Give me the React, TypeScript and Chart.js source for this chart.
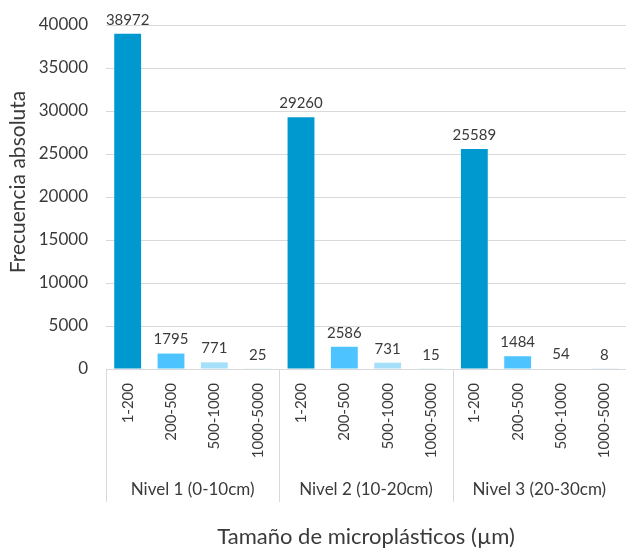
import React, { useEffect, useRef } from "react";
import { Chart, registerables } from "chart.js";

Chart.register(...registerables);

// Size classes (µm) repeated within each depth level
const sizeClasses = ["1-200", "200-500", "500-1000", "1000-5000"];
const levels = ["Nivel 1 (0-10cm)", "Nivel 2 (10-20cm)", "Nivel 3 (20-30cm)"];

// Absolute frequency per level, in size-class order
const nivel1 = [38972, 1795, 771, 25];
const nivel2 = [29260, 2586, 731, 15];
const nivel3 = [25589, 1484, 54, 8];

const sizeColors = ["#0099CF", "#4DC3FF", "#A6DFFA", "#D2EFFC"];

const yTitle = "Frecuencia absoluta";
const xTitle = "Tamaño de microplásticos (µm)";

const FONT = "Lato, 'Open Sans', sans-serif";
const TEXT = "#3A3A3A";
const LINE = "#D9D9D9";

const labels = [...sizeClasses, ...sizeClasses, ...sizeClasses];
const values = [...nivel1, ...nivel2, ...nivel3];
const colors = [...sizeColors, ...sizeColors, ...sizeColors];

const decorations = {
  id: "decorations",
  afterDatasetsDraw(chart: any) {
    const { ctx, chartArea } = chart;
    const meta = chart.getDatasetMeta(0);
    ctx.save();
    // value labels above bars
    ctx.fillStyle = TEXT;
    ctx.font = `15px ${FONT}`;
    ctx.textAlign = "center";
    ctx.textBaseline = "middle";
    meta.data.forEach((bar: any, i: number) => {
      ctx.fillText(String(values[i]), bar.x, bar.y - 14);
    });

    // group separators on the category axis
    const groupW = (chartArea.right - chartArea.left) / levels.length;
    ctx.strokeStyle = LINE;
    ctx.lineWidth = 1;
    for (let g = 0; g < levels.length; g++) {
      const x = Math.round(chartArea.left + g * groupW) + 0.5;
      ctx.beginPath();
      ctx.moveTo(x, chartArea.bottom);
      ctx.lineTo(x, 502);
      ctx.stroke();
    }

    // group labels
    ctx.font = `17px ${FONT}`;
    levels.forEach((lv, g) => {
      ctx.fillText(lv, chartArea.left + (g + 0.5) * groupW, 490);
    });

    // axis titles
    ctx.font = `22px ${FONT}`;
    ctx.fillText(xTitle, (chartArea.left + chartArea.right) / 2, 537);
    ctx.translate(18, 182);
    ctx.rotate(-Math.PI / 2);
    ctx.font = `21px ${FONT}`;
    ctx.fillText(yTitle, 0, 0);
    ctx.restore();
  },
};

export default function App() {
  const ref = useRef<HTMLCanvasElement | null>(null);

  useEffect(() => {
    if (!ref.current) return;
    const chart = new Chart(ref.current, {
      type: "bar",
      data: {
        labels,
        datasets: [
          {
            data: values,
            backgroundColor: colors,
            borderWidth: 0,
            categoryPercentage: 1,
            barPercentage: 0.62,
          },
        ],
      },
      options: {
        animation: false,
        responsive: false,
        devicePixelRatio: 1,
        layout: { padding: { top: 25, right: 0, left: 0, bottom: 0 } },
        plugins: {
          legend: { display: false },
          tooltip: { enabled: false },
        },
        scales: {
          x: {
            grid: { display: false, drawTicks: false },
            border: { display: true, color: LINE, width: 1 },
            ticks: {
              autoSkip: false,
              minRotation: 90,
              maxRotation: 90,
              padding: 14,
              color: TEXT,
              font: { family: FONT, size: 15 },
            },
            afterFit: (scale: any) => {
              scale.height = 179;
              scale.paddingLeft = 0;
              scale.paddingRight = 0;
            },
          },
          y: {
            min: 0,
            max: 40000,
            grid: { color: LINE, drawTicks: false },
            border: { display: false },
            ticks: {
              stepSize: 5000,
              padding: 18,
              color: TEXT,
              font: { family: FONT, size: 17 },
              callback: (v: any) => String(v),
            },
            afterFit: (scale: any) => {
              scale.width = 106;
              scale.paddingTop = 0;
              scale.paddingBottom = 0;
            },
          },
        },
      },
      plugins: [decorations],
    });
    return () => chart.destroy();
  }, []);

  return (
    <div style={{ position: "absolute", left: 0, top: 0, width: 626, height: 548, background: "#fff" }}>
      <canvas ref={ref} width={626} height={548} />
    </div>
  );
}
